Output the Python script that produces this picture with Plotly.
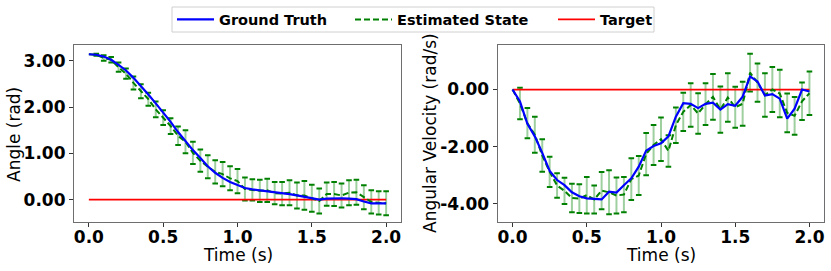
import numpy as np
import plotly.graph_objects as go

# ---------------- data ----------------
time = [0.00, 0.05, 0.10, 0.15, 0.20, 0.25, 0.30, 0.35, 0.40, 0.45,
        0.50, 0.55, 0.60, 0.65, 0.70, 0.75, 0.80, 0.85, 0.90, 0.95,
        1.00, 1.05, 1.10, 1.15, 1.20, 1.25, 1.30, 1.35, 1.40, 1.45,
        1.50, 1.55, 1.60, 1.65, 1.70, 1.75, 1.80, 1.85, 1.90, 1.95, 2.00]

angle_truth = [3.14, 3.13, 3.09, 3.02, 2.91, 2.79, 2.63, 2.46, 2.27, 2.08,
               1.89, 1.68, 1.46, 1.26, 1.07, 0.90, 0.72, 0.58, 0.47, 0.38,
               0.31, 0.25, 0.22, 0.20, 0.19, 0.17, 0.14, 0.12, 0.09, 0.06,
               0.02, 0.00, 0.02, 0.03, 0.03, 0.02, 0.01, -0.04, -0.08, -0.08, -0.08]

angle_est = [3.14, 3.13, 3.06, 3.02, 2.86, 2.72, 2.52, 2.34, 2.17, 1.95,
             1.77, 1.59, 1.38, 1.25, 1.01, 0.84, 0.71, 0.60, 0.55, 0.46,
             0.40, 0.23, 0.21, 0.19, 0.20, 0.14, 0.13, 0.15, 0.09, 0.09,
             0.03, -0.03, 0.12, 0.12, 0.09, 0.15, 0.16, 0.05, -0.05, -0.07, -0.08]

angle_err = [0.00, 0.02, 0.06, 0.06, 0.10, 0.11, 0.14, 0.15, 0.14, 0.17,
             0.16, 0.17, 0.20, 0.25, 0.24, 0.24, 0.25, 0.25, 0.26, 0.26,
             0.26, 0.25, 0.23, 0.24, 0.25, 0.24, 0.25, 0.27, 0.28, 0.31,
             0.29, 0.27, 0.25, 0.26, 0.26, 0.27, 0.27, 0.26, 0.25, 0.25, 0.26]

vel_truth = [0.00, -0.42, -1.20, -1.64, -2.22, -2.85, -3.17, -3.35, -3.60, -3.74,
             -3.81, -3.84, -3.85, -3.58, -3.61, -3.35, -3.11, -2.70, -2.14, -1.98,
             -1.88, -1.64, -0.95, -0.48, -0.50, -0.65, -0.50, -0.46, -0.70, -0.51,
             -0.57, -0.25, 0.46, 0.28, -0.21, -0.16, -0.32, -1.02, -0.67, 0.00, -0.07]

vel_est = [0.00, -0.49, -1.18, -1.58, -2.31, -2.88, -3.36, -3.55, -3.80, -3.82,
           -3.70, -3.85, -3.54, -3.60, -3.71, -3.68, -3.14, -3.01, -2.26, -1.94,
           -1.74, -2.15, -1.25, -0.78, -0.54, -0.84, -0.51, -0.26, -0.70, -0.28,
           -0.62, -0.50, 0.59, 0.24, -0.19, 0.00, -0.14, -0.82, -0.92, -0.41, -0.13]

vel_err = [0.00, 0.55, 0.53, 0.63, 0.57, 0.53, 0.43, 0.46, 0.50, 0.50,
           0.64, 0.49, 0.65, 0.77, 0.63, 0.62, 0.73, 0.68, 0.74, 0.70,
           0.76, 0.55, 0.62, 0.67, 0.76, 0.71, 0.73, 0.80, 0.81, 0.85,
           0.72, 0.77, 0.66, 0.67, 0.76, 0.79, 0.83, 0.68, 0.66, 0.66, 0.76]

target_time = [0.0, 2.0]
target_angle = [0.0, 0.0]
target_vel = [0.0, 0.0]

x_tickvals = [0.0, 0.5, 1.0, 1.5, 2.0]
x_ticktext = ["0.0", "0.5", "1.0", "1.5", "2.0"]
angle_tickvals = [0.0, 1.0, 2.0, 3.0]
angle_ticktext = ["0.00", "1.00", "2.00", "3.00"]
vel_tickvals = [-4.0, -2.0, 0.0]
vel_ticktext = ["-4.00", "-2.00", "0.00"]

# ---------------- styles ----------------
BLUE = "#0000ff"
GREEN = "#008000"
LIGHT_GREEN = "rgba(0,128,0,0.38)"
RED = "#ff0000"
FONT = "DejaVu Sans"
W, H = 831, 271

fig = go.Figure()


def add_panel(xa, ya, est, err, truth, target, show):
    est = np.asarray(est)
    err = np.asarray(err)
    t = np.asarray(time)
    fig.add_trace(go.Scatter(
        x=t, y=est, mode="none", showlegend=False, hoverinfo="skip",
        error_y=dict(type="data", array=err, visible=True, color=LIGHT_GREEN,
                     thickness=2, width=0),
        xaxis=xa, yaxis=ya))
    mask = err > 0
    fig.add_trace(go.Scatter(
        x=np.concatenate([t[mask], t[mask]]),
        y=np.concatenate([est[mask] + err[mask], est[mask] - err[mask]]),
        mode="markers", showlegend=False, hoverinfo="skip",
        marker=dict(symbol="line-ew", size=4, color=GREEN,
                    line=dict(color=GREEN, width=2)),
        xaxis=xa, yaxis=ya))
    fig.add_trace(go.Scatter(
        x=target_time, y=target, mode="lines", name="Target",
        line=dict(color=RED, width=1.8), showlegend=show, legend="legend3",
        xaxis=xa, yaxis=ya))
    fig.add_trace(go.Scatter(
        x=t, y=est, mode="lines", name="Estimated State",
        line=dict(color=GREEN, width=2, dash="6px,3px"), showlegend=show,
        legend="legend2", xaxis=xa, yaxis=ya))
    fig.add_trace(go.Scatter(
        x=t, y=truth, mode="lines", name="Ground Truth",
        line=dict(color=BLUE, width=2.2), showlegend=show, legend="legend",
        xaxis=xa, yaxis=ya))


add_panel("x", "y", angle_est, angle_err, angle_truth, target_angle, True)
add_panel("x2", "y2", vel_est, vel_err, vel_truth, target_vel, False)

tickfont = dict(family=FONT, size=17, color="black", weight="bold")
axis_common = dict(showline=True, mirror=True, linecolor="#6e6e6e", linewidth=1.2,
                   ticks="outside", ticklen=4, tickwidth=1, tickcolor="#333333",
                   showgrid=False, zeroline=False, tickfont=tickfont,
                   automargin=False)

y_dom = [(H - 222.3) / H, (H - 45) / H]

legend_font = dict(family=FONT, size=14.5, color="black", weight="bold")
leg_y = 1 - 19.5 / H


def legend_at(px):
    return dict(orientation="h", x=px / W, xanchor="left", y=leg_y, yanchor="middle",
                font=legend_font, borderwidth=0, bgcolor="rgba(0,0,0,0)", itemwidth=37)


fig.update_layout(
    width=W, height=H,
    margin=dict(l=0, r=0, t=0, b=0),
    paper_bgcolor="white", plot_bgcolor="white",
    xaxis=dict(domain=[74 / W, 401 / W], range=[-0.1, 2.1], ticklabelstandoff=-5,
               tickvals=x_tickvals, ticktext=x_ticktext, anchor="y", **axis_common),
    yaxis=dict(domain=y_dom, range=[-0.49, 3.34],
               tickvals=angle_tickvals, ticktext=angle_ticktext, anchor="x", **axis_common),
    xaxis2=dict(domain=[497.7 / W, 824.3 / W], range=[-0.1, 2.1], ticklabelstandoff=-5,
                tickvals=x_tickvals, ticktext=x_ticktext, anchor="y2", **axis_common),
    yaxis2=dict(domain=y_dom, range=[-4.65, 1.56],
                tickvals=vel_tickvals, ticktext=vel_ticktext, anchor="x2", **axis_common),
    legend=legend_at(172),
    legend2=legend_at(350),
    legend3=legend_at(553),
    showlegend=True,
)

# legend frame
fig.add_shape(type="rect", xref="paper", yref="paper",
              x0=172 / W, x1=654 / W, y0=1 - 32 / H, y1=1 - 7 / H,
              line=dict(color="#d0d0d0", width=1), fillcolor="rgba(0,0,0,0)", layer="above")

title_font = dict(family=FONT, size=17, color="black")
fig.add_annotation(text="Time (s)", x=238 / W, y=(H - 255) / H, xref="paper", yref="paper",
                   showarrow=False, font=title_font, xanchor="center", yanchor="middle")
fig.add_annotation(text="Time (s)", x=661 / W, y=(H - 255) / H, xref="paper", yref="paper",
                   showarrow=False, font=title_font, xanchor="center", yanchor="middle")
fig.add_annotation(text="Angle (rad)", x=14 / W, y=(H - 135) / H, xref="paper", yref="paper",
                   showarrow=False, font=title_font, textangle=-90,
                   xanchor="center", yanchor="middle")
fig.add_annotation(text="Angular Velocity (rad/s)", x=430 / W, y=(H - 133) / H,
                   xref="paper", yref="paper", showarrow=False, font=title_font,
                   textangle=-90, xanchor="center", yanchor="middle")

fig.write_html("out.html", config={"displayModeBar": False},
               post_script="document.body.style.margin='0';document.body.style.padding='0';")
